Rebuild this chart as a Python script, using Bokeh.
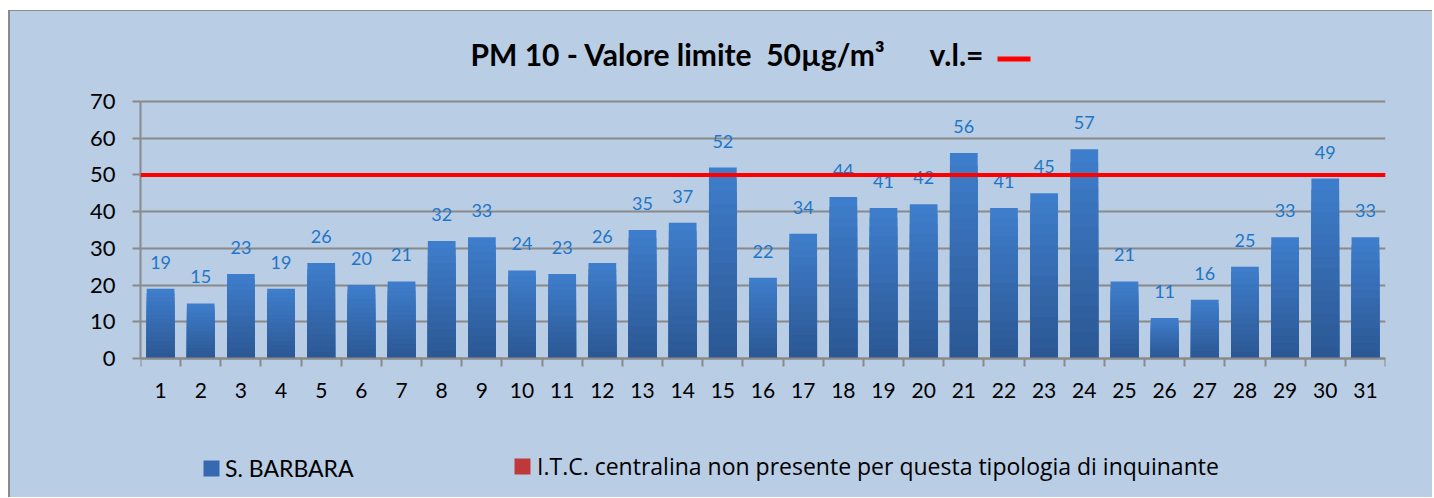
from bokeh.plotting import figure
from bokeh.models import (Range1d, FixedTicker, ColumnDataSource, Span, Label,
                          Legend, LegendItem, BoxAnnotation)
from bokeh.core.properties import value
from bokeh.embed import file_html
from bokeh.resources import INLINE

days = list(range(1, 32))
pm10 = [19, 15, 23, 19, 26, 20, 21, 32, 33, 24, 23, 26, 35, 37, 52, 22, 34, 44,
        41, 42, 56, 41, 45, 57, 21, 11, 16, 25, 33, 49, 33]
limit = 50
y_ticks = [0, 10, 20, 30, 40, 50, 60, 70]
title_text = "PM 10 - Valore limite \u00a050µg/m³"
vl_text = "v.l.="
series_name = "S. BARBARA"
itc_name = "I.T.C. centralina non presente per questa tipologia di inquinante"

BG = "#B9CDE5"
GRAY = "#8a8a8a"
FONT = "Lato"

# canvas 1424x487; plot area (0..70) spans canvas y 90..347, x 130..1375
H = 487
TOP_PX, ZERO_PX = 90, 347
ppu = (ZERO_PX - TOP_PX) / 70.0
y_hi = 70 + TOP_PX / ppu
y_lo = -(H - ZERO_PX) / ppu

p = figure(width=1424, height=H, output_backend="svg", toolbar_location=None,
           x_range=Range1d(0.5, 31.5), y_range=Range1d(y_lo, y_hi),
           min_border_left=130, min_border_right=49, min_border_top=0,
           min_border_bottom=0)
p.styles = {"border-top": "1px solid #8a8a8a", "border-left": "2px solid #8a8a8a",
            "margin-top": "10px", "margin-left": "8px", "background-color": BG}
p.background_fill_color = None
p.border_fill_color = BG
p.outline_line_color = None

# gradient bars: stacked layers, light at the top of each bar, dark at bottom
N = 16
top_rgb = (0x3E, 0x7D, 0xCB)
bot_rgb = (0x2C, 0x58, 0x94)
for k in range(N):
    t = k / (N - 1)
    c = tuple(int(round(top_rgb[i] + (bot_rgb[i] - top_rgb[i]) * t)) for i in range(3))
    col = "#%02x%02x%02x" % c
    frac = 1 - k / N
    src = ColumnDataSource(dict(x=days, top=[v * frac for v in pm10]))
    p.vbar(x="x", top="top", width=0.69, source=src, fill_color=col,
           line_color=None)

# data labels
lab_src = ColumnDataSource(dict(x=days, y=pm10, t=[str(v) for v in pm10]))
p.text(x="x", y="y", text="t", source=lab_src, text_align="center",
       text_baseline="bottom", y_offset=-20, text_font=value(FONT),
       text_font_size="18px", text_color="#1f76c6")

# limit line
p.add_layout(Span(location=limit, dimension="width", line_color="#ff0000",
                  line_width=4))

# axes
xa = p.xaxis[0]
xa.fixed_location = 0
xa.ticker = FixedTicker(ticks=days, minor_ticks=[d - 0.5 for d in days] + [days[-1] + 0.5])
xa.major_tick_out = 0
xa.major_tick_in = 0
xa.minor_tick_out = 8
xa.minor_tick_in = 0
xa.minor_tick_line_color = GRAY
xa.minor_tick_line_width = 2
xa.axis_line_color = GRAY
xa.axis_line_width = 2
xa.major_label_text_font = FONT
xa.major_label_text_font_size = "21px"
xa.major_label_text_color = "black"
xa.major_label_standoff = 16

ya = p.yaxis[0]
ya.bounds = (0, 70)
ya.ticker = FixedTicker(ticks=y_ticks)
ya.major_tick_out = 8
ya.major_tick_in = 0
ya.minor_tick_line_color = None
ya.major_tick_line_color = GRAY
ya.major_tick_line_width = 2
ya.axis_line_color = GRAY
ya.axis_line_width = 2
ya.major_label_text_font = FONT
ya.major_label_text_font_size = "22px"
ya.major_label_text_color = "black"
ya.major_label_standoff = 17

p.xgrid.visible = False
p.ygrid.ticker = FixedTicker(ticks=y_ticks)
p.ygrid.grid_line_color = GRAY
p.ygrid.grid_line_width = 2

# title (screen units from the frame's bottom-left corner)
p.add_layout(Label(x=330, y=H - 42, x_units="screen", y_units="screen",
                   text=title_text, text_font=FONT, text_font_size="30px",
                   text_font_style="bold", text_baseline="middle",
                   text_align="left", text_color="black"))
p.add_layout(Label(x=789, y=H - 42, x_units="screen", y_units="screen",
                   text=vl_text, text_font=FONT, text_font_size="30px",
                   text_font_style="bold", text_baseline="middle",
                   text_align="left", text_color="black"))
p.add_layout(BoxAnnotation(left=857, right=890, bottom=H - 50, top=H - 45,
                           left_units="screen", right_units="screen",
                           bottom_units="screen", top_units="screen",
                           fill_color="#ff0000", fill_alpha=1, line_color=None))

# bottom legends (renderers with a single zero-height bar so the swatch draws)
blue_r = p.vbar(x=[days[0]], top=[0], width=0.69, fill_color="#3669b0",
                line_color=None)
red_r = p.vbar(x=[days[0]], top=[0], width=0.69, fill_color="#c0393a",
               line_color=None)
for rend, name, vx, fnt, fsz, so in [(blue_r, series_name, 61, FONT, "23px", 4),
                                     (red_r, itc_name, 372, "Open Sans", "23px", 5)]:
    lg = Legend(items=[LegendItem(label=name, renderers=[rend])],
                location=(vx, 16), orientation="horizontal",
                glyph_width=20, glyph_height=20, label_standoff=so,
                padding=0, margin=0, border_line_color=None,
                background_fill_alpha=0, label_text_font=fnt,
                label_text_font_size=fsz, label_text_color="black")
    p.add_layout(lg, "center")

open("out.html", "w").write(file_html(p, INLINE))
